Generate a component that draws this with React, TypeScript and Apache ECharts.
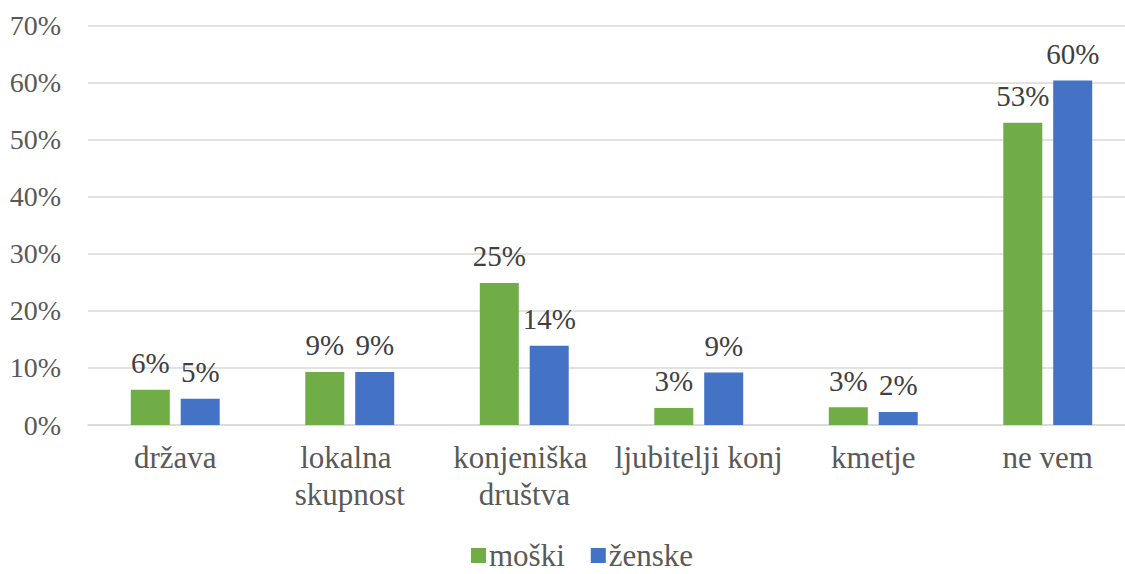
import React, { useEffect, useRef } from "react";
import * as echarts from "echarts";

const categories = ["država", "lokalna skupnost", "konjeniška društva", "ljubitelji konj", "kmetje", "ne vem"];
const seriesNames = ["moški", "ženske"];
const moski = [6.2, 9.3, 24.9, 3.0, 3.1, 53.0];
const zenske = [4.6, 9.3, 13.9, 9.2, 2.3, 60.4];
const yTicks = [0, 10, 20, 30, 40, 50, 60, 70];

const FONT = "Liberation Serif";

export default function App() {
  const ref = useRef<HTMLDivElement>(null);
  useEffect(() => {
    document.body.style.margin = "0";
    const chart = echarts.init(ref.current!, null, { renderer: "svg" });
    const label = {
      show: true,
      position: "top",
      distance: 12,
      color: "#404040",
      fontFamily: FONT,
      fontSize: 29,
      formatter: (p: any) => Math.round(p.value) + "%",
    };
    chart.setOption({
      animation: false,
      textStyle: { fontFamily: FONT },
      grid: { left: 88, top: 25.7, width: 1047, height: 399.3, containLabel: false },
      legend: {
        top: 535,
        left: 466,
        itemWidth: 15,
        itemHeight: 15,
        itemGap: 26,
        icon: "rect",
        textStyle: { color: "#595959", fontFamily: FONT, fontSize: 31, padding: [0, 0, 0, -2] },
        data: seriesNames,
      },
      xAxis: {
        type: "category",
        data: categories,
        axisLine: { lineStyle: { color: "#D9D9D9", width: 1.5 } },
        axisTick: { show: false },
        axisLabel: {
          interval: 0,
          color: "#595959",
          fontFamily: FONT,
          fontSize: 31,
          lineHeight: 37,
          margin: 14,
          width: 174,
          overflow: "break",
        },
      },
      yAxis: {
        type: "value",
        min: yTicks[0],
        max: yTicks[yTicks.length - 1],
        interval: 10,
        axisLine: { show: false },
        axisTick: { show: false },
        splitLine: { lineStyle: { color: "#D9D9D9", width: 1.5 } },
        axisLabel: {
          color: "#595959",
          fontFamily: FONT,
          fontSize: 28,
          margin: 27,
          formatter: (v: number) => v + "%",
        },
      },
      series: [
        {
          name: seriesNames[0],
          type: "bar",
          data: moski,
          barWidth: 39,
          barGap: "28%",
          itemStyle: { color: "#70AD47" },
          label,
        },
        {
          name: seriesNames[1],
          type: "bar",
          data: zenske,
          barWidth: 39,
          barGap: "28%",
          itemStyle: { color: "#4472C4" },
          label,
        },
      ],
    });
    return () => chart.dispose();
  }, []);
  return (
    <div style={{ width: 1125, height: 574, overflow: "hidden", position: "relative" }}>
      <div ref={ref} style={{ width: 1140, height: 574 }} />
    </div>
  );
}
